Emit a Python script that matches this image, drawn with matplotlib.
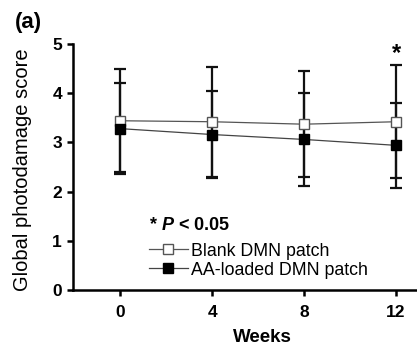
import numpy as np
import matplotlib
matplotlib.use('Agg')
import matplotlib.pyplot as plt

plt.rcParams['font.family'] = 'Liberation Sans'
plt.rcParams['mathtext.fontset'] = 'custom'
plt.rcParams['mathtext.it'] = 'Liberation Sans:bold:italic'
plt.rcParams['mathtext.rm'] = 'Liberation Sans:bold'

# data
weeks = [0, 4, 8, 12]
blank_mean = [3.44, 3.42, 3.37, 3.42]
blank_sd = [1.05, 1.12, 1.08, 1.15]
aa_mean = [3.28, 3.16, 3.06, 2.94]
aa_sd = [0.92, 0.89, 0.95, 0.87]
tick_labels = ['0', '4', '8', '12']

fig = plt.figure(figsize=(4.17, 3.5), dpi=100)
ax = fig.add_axes([72.5 / 417, 1 - 290 / 350, 1 - 72.5 / 417, (290 - 44) / 350])

ax.errorbar(weeks, blank_mean, yerr=blank_sd, fmt='none', ecolor='#111111',
            elinewidth=1.6, capsize=4.3, capthick=1.6, zorder=2)
ax.errorbar(weeks, aa_mean, yerr=aa_sd, fmt='none', ecolor='#111111',
            elinewidth=1.6, capsize=4.3, capthick=1.6, zorder=2)

ax.plot(weeks, blank_mean, color='#555555', lw=0.9, marker='s', ms=6.5,
        mfc='white', mec='#555555', mew=1.0, label='Blank DMN patch', zorder=3)
ax.plot(weeks, aa_mean, color='#444444', lw=0.9, marker='s', ms=6.5,
        mfc='black', mec='black', label='AA-loaded DMN patch', zorder=3)

ax.text(12, 4.8, '*', ha='center', va='center', fontsize=17, fontweight='bold')

ax.set_xlim(-2.07, 12.91)
ax.set_ylim(0, 5)
ax.set_xticks(weeks)
ax.set_xticklabels(tick_labels)
ax.set_yticks([0, 1, 2, 3, 4, 5])

for s in ['top', 'right']:
    ax.spines[s].set_visible(False)
for s in ['left', 'bottom']:
    ax.spines[s].set_linewidth(1.8)
ax.tick_params(width=1.8, length=4, direction='out', labelsize=12.5)
for lab in ax.get_xticklabels() + ax.get_yticklabels():
    lab.set_fontweight('bold')
ax.tick_params(axis='x', pad=7)

ax.set_ylabel('Global photodamage score', fontsize=14.5)
ax.yaxis.set_label_coords(-0.118, 0.49)
ax.set_xlabel('Weeks', fontsize=13.5, fontweight='bold')
ax.xaxis.set_label_coords((262 - 72.5) / (417 - 72.5), -(329 - 290) / 246)

leg = ax.legend(loc='lower left', bbox_to_anchor=(0.2, 0.017), frameon=False,
                fontsize=12.8, handlelength=2.2, handletextpad=0.2,
                labelspacing=0.12, borderaxespad=0,
                title='* $P$ < 0.05', alignment='left',
                title_fontproperties={'weight': 'bold', 'size': 13})
leg._legend_box.sep = 6

fig.text(15 / 417, 1 - 12 / 350, '(a)', fontsize=16, fontweight='bold', va='top')

fig.savefig('out.png', dpi=100)
